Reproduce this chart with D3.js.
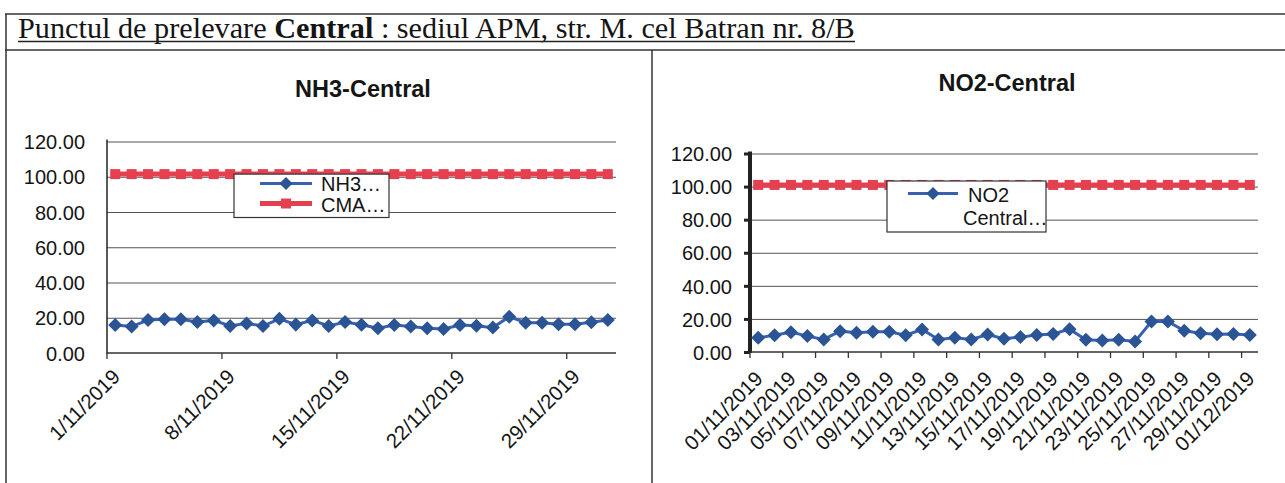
<!DOCTYPE html>
<html>
<head>
<meta charset="utf-8">
<script src="https://cdn.jsdelivr.net/npm/d3@7/dist/d3.min.js"></script>
<style>
  html, body { margin: 0; padding: 0; background: #ffffff; }
  svg { display: block; }
  text { font-family: "Liberation Sans", Arial, sans-serif; fill: #151515; }
</style>
</head>
<body>
<svg id="chart" width="1285" height="483"></svg>
<script>
// ---------------- DATA ----------------
const categories = [
  "01/11/2019","02/11/2019","03/11/2019","04/11/2019","05/11/2019","06/11/2019","07/11/2019",
  "08/11/2019","09/11/2019","10/11/2019","11/11/2019","12/11/2019","13/11/2019","14/11/2019",
  "15/11/2019","16/11/2019","17/11/2019","18/11/2019","19/11/2019","20/11/2019","21/11/2019",
  "22/11/2019","23/11/2019","24/11/2019","25/11/2019","26/11/2019","27/11/2019","28/11/2019",
  "29/11/2019","30/11/2019","01/12/2019"
];
const nh3Values = [15.9,15.0,18.7,19.1,19.1,17.6,18.5,15.3,16.8,15.3,19.4,16.1,18.5,15.3,17.6,
                   16.0,14.0,15.9,15.0,14.0,13.6,15.9,15.5,14.4,20.6,17.2,17.2,16.3,16.3,17.4,18.7];
const nh3Cma = [101.5,101.5,101.5,101.5,101.5,101.5,101.5,101.5,101.5,101.5,101.5,101.5,101.5,101.5,101.5,
                101.5,101.5,101.5,101.5,101.5,101.5,101.5,101.5,101.5,101.5,101.5,101.5,101.5,101.5,101.5,101.5];
const no2Values = [8.6,10.2,12.0,9.6,7.6,12.6,11.6,12.2,12.2,10.2,13.6,7.6,8.6,7.6,10.6,
                   8.0,9.0,10.3,10.9,13.8,7.4,7.0,7.4,6.4,18.4,18.4,12.8,11.3,10.7,10.9,10.3];
const no2Cma = [101,101,101,101,101,101,101,101,101,101,101,101,101,101,101,
                101,101,101,101,101,101,101,101,101,101,101,101,101,101,101,101];
const yTicks = [0,20,40,60,80,100,120];
const nh3TickLabels = ["1/11/2019","8/11/2019","15/11/2019","22/11/2019","29/11/2019"];
const nh3LabelCats = ["01/11/2019","08/11/2019","15/11/2019","22/11/2019","29/11/2019"];
const no2TickLabels = ["01/11/2019","03/11/2019","05/11/2019","07/11/2019","09/11/2019","11/11/2019",
  "13/11/2019","15/11/2019","17/11/2019","19/11/2019","21/11/2019","23/11/2019","25/11/2019",
  "27/11/2019","29/11/2019","01/12/2019"];
const pageTitle = ["Punctul de prelevare ", "Central", " : sediul APM, str. M. cel Batran nr. 8/B"];

// ---------------- DRAW ----------------
const svg = d3.select("#chart");
const BLUE = "#2b5494", BLUE_LINE = "#3861b2", RED = "#e5404f", GRID = "#555555";

// frame
svg.append("line").attr("x1",5).attr("x2",1285).attr("y1",14).attr("y2",14).attr("stroke","#333").attr("stroke-width",1.5);
svg.append("line").attr("x1",5).attr("x2",1285).attr("y1",50).attr("y2",50).attr("stroke","#333").attr("stroke-width",1.5);
svg.append("line").attr("x1",6).attr("x2",6).attr("y1",14).attr("y2",483).attr("stroke","#333").attr("stroke-width",1.5);
svg.append("line").attr("x1",652).attr("x2",652).attr("y1",50).attr("y2",483).attr("stroke","#333").attr("stroke-width",1.5);

// page title
const tt = svg.append("text").attr("x",18).attr("y",38)
  .style("font-family",'"Liberation Serif","Times New Roman",serif').style("font-size","100px");
pageTitle.forEach((s,i)=>{
  tt.append("tspan").text(s).style("font-weight", i===1 ? "bold" : "normal");
});
const w100 = tt.node().getComputedTextLength();
const targetW = 837;
tt.style("font-size", (100*targetW/w100).toFixed(2)+"px");
svg.append("line").attr("x1",18).attr("x2",18+targetW).attr("y1",41.5).attr("y2",41.5)
  .attr("stroke","#222").attr("stroke-width",1.3);

function drawChart(cfg){
  const g = svg.append("g");
  const x = d3.scaleBand().domain(categories).range([cfg.x0,cfg.x1]).padding(0);
  const y = d3.scaleLinear().domain([0,120]).range([cfg.yb,cfg.yt]);
  const cx = d => x(d) + x.bandwidth()/2;

  // gridlines
  g.append("g").attr("transform",`translate(${cfg.x0},0)`)
    .call(d3.axisLeft(y).tickValues(yTicks.filter(v=>v>0)).tickSize(-(cfg.x1-cfg.x0)).tickFormat(""))
    .call(s=>s.select(".domain").remove())
    .call(s=>s.selectAll("line").attr("stroke",GRID).attr("stroke-width",1));

  // y axis labels
  const ya = g.append("g").attr("transform",`translate(${cfg.x0},0)`)
    .call(d3.axisLeft(y).tickValues(yTicks).tickSize(cfg.yTick).tickPadding(cfg.yPad).tickFormat(d=>d.toFixed(2)));
  ya.select(".domain").remove();
  ya.selectAll("line").attr("stroke","#222").attr("stroke-width",cfg.yAxisW>2?3:1);
  ya.selectAll("text").style("font-size","20px").style("font-family",'"Liberation Sans",Arial,sans-serif').attr("fill","#151515").attr("dy","0.36em");
  g.append("line").attr("x1",cfg.x0).attr("x2",cfg.x0).attr("y1",cfg.yt-2).attr("y2",cfg.yb+1)
    .attr("stroke","#222").attr("stroke-width",cfg.yAxisW);

  // x axis
  g.append("line").attr("x1",cfg.x0).attr("x2",cfg.x1).attr("y1",cfg.yb).attr("y2",cfg.yb)
    .attr("stroke","#333").attr("stroke-width",1.3);
  g.selectAll(".xt").data(cfg.tickCats).enter().append("line")
    .attr("x1",d=>x(d)).attr("x2",d=>x(d)).attr("y1",cfg.yb).attr("y2",cfg.yb+6)
    .attr("stroke","#333").attr("stroke-width",1.3);
  g.selectAll(".xl").data(cfg.labels).enter().append("text")
    .attr("transform",(d,i)=>`translate(${cx(cfg.labelCats[i])+cfg.lblDx},${cfg.yb+cfg.lblDy}) rotate(-45)`)
    .attr("text-anchor","end").style("font-size","20.5px").text(d=>d);

  // CMA series (red)
  const lineC = d3.line().x((d,i)=>cx(categories[i])).y(d=>y(d));
  g.append("path").datum(cfg.cma).attr("d",lineC).attr("fill","none").attr("stroke",RED).attr("stroke-width",5);
  g.selectAll(".sq").data(cfg.cma).enter().append("rect")
    .attr("x",(d,i)=>cx(categories[i])-5).attr("y",d=>y(d)-5).attr("width",10).attr("height",10).attr("fill",RED);

  // measurement series (blue)
  g.append("path").datum(cfg.vals).attr("d",lineC).attr("fill","none").attr("stroke",BLUE_LINE).attr("stroke-width",3);
  const sym = d3.symbol().type(d3.symbolDiamond2).size(125);
  g.selectAll(".dm").data(cfg.vals).enter().append("path")
    .attr("d",sym).attr("transform",(d,i)=>`translate(${cx(categories[i])},${y(d)})`).attr("fill",BLUE);

  // chart title
  g.append("text").attr("x",cfg.titleX).attr("y",cfg.titleY).attr("text-anchor","middle")
    .style("font-size","23.5px").style("font-weight","bold").text(cfg.title);

  return {g,x,y};
}

const left = drawChart({
  x0:107, x1:616, yb:353, yt:141.5, yTick:0, yPad:22, yAxisW:1.5,
  vals:nh3Values, cma:nh3Cma,
  tickCats: nh3LabelCats, labels: nh3TickLabels, labelCats: nh3LabelCats,
  lblDx:6, lblDy:25,
  title:"NH3-Central", titleX:363, titleY:96.5
});
const right = drawChart({
  x0:750, x1:1258, yb:352, yt:153.5, yTick:6, yPad:12, yAxisW:4,
  vals:no2Values, cma:no2Cma,
  tickCats: no2TickLabels, labels: no2TickLabels, labelCats: no2TickLabels,
  lblDx:6, lblDy:28,
  title:"NO2-Central", titleX:1007, titleY:91
});

// legends
function legendBox(x,y,w,h){
  svg.append("rect").attr("x",x).attr("y",y).attr("width",w).attr("height",h)
    .attr("fill","#fff").attr("stroke","#333").attr("stroke-width",1.2);
}
function legendBlue(x1,x2,yy){
  svg.append("line").attr("x1",x1).attr("x2",x2).attr("y1",yy).attr("y2",yy).attr("stroke",BLUE_LINE).attr("stroke-width",3);
  svg.append("path").attr("d",d3.symbol().type(d3.symbolDiamond2).size(110)).attr("transform",`translate(${(x1+x2)/2},${yy})`).attr("fill",BLUE);
}
function legendRed(x1,x2,yy){
  svg.append("line").attr("x1",x1).attr("x2",x2).attr("y1",yy).attr("y2",yy).attr("stroke",RED).attr("stroke-width",5);
  svg.append("rect").attr("x",(x1+x2)/2-5).attr("y",yy-5).attr("width",10).attr("height",10).attr("fill",RED);
}
const ly = left.y(nh3Cma[0]);
legendBox(234, ly, 155, 217.5-ly);
legendBlue(260,312,183.5);
svg.append("text").attr("x",321).attr("y",191).style("font-size","20px").text("NH3…");
legendRed(260,312,203.5);
svg.append("text").attr("x",321).attr("y",211.5).style("font-size","20px").text("CMA…");

legendBox(887, 181, 159, 51);
legendBlue(908,958,193.5);
svg.append("text").attr("x",968).attr("y",201.5).style("font-size","20px").text("NO2");
svg.append("text").attr("x",963).attr("y",225).style("font-size","20px").text("Central…");
</script>
</body>
</html>
